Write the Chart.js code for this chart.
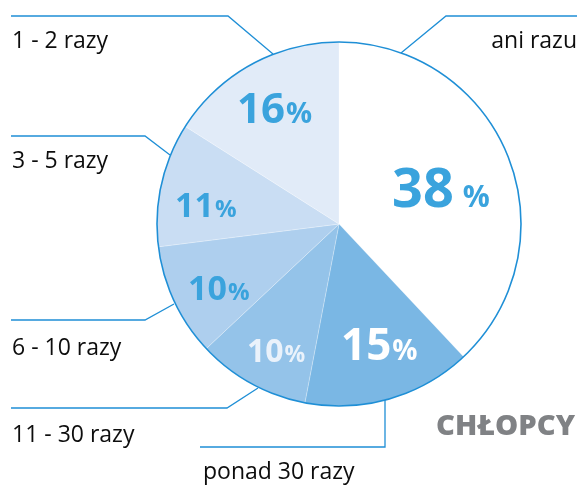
<!DOCTYPE html>
<html>
<head>
<meta charset="utf-8">
<script src="https://cdn.jsdelivr.net/npm/chart.js@4"></script>
<style>
    html, body { margin: 0; padding: 0; background: #fff; }
    #wrap { width: 579px; height: 485px; position: relative; }
</style>
</head>
<body>
<div id="wrap"><canvas id="pieChart"></canvas></div>
<script>
// slices from 12 o'clock, clockwise
const categories = ['ani razu', 'ponad 30 razy', '11 - 30 razy', '6 - 10 razy', '3 - 5 razy', '1 - 2 razy'];
const shares = [38, 15, 10, 10, 11, 16];
const sliceColors = ['#ffffff', '#7ab7e4', '#94c3e9', '#aecfee', '#c9ddf3', '#e1ebf8'];
const pctColors = ['#3aa3dd', '#ffffff', '#eaf2fb', '#3aa3dd', '#3aa3dd', '#3aa3dd'];
const title = 'CHŁOPCY';

const lineBlue = '#1f8fd6';

// where each category name and its leader line sit
const labelLayout = [
    { x: 577, y: 48, align: 'right', line: [[401, 53], [446, 16], [577, 16]] },
    { x: 203, y: 479, align: 'left', line: [[385, 400], [385, 447], [200, 447]] },
    { x: 12, y: 442, align: 'left', line: [[258, 388], [227, 408], [11, 408]] },
    { x: 12, y: 355, align: 'left', line: [[174, 304], [145, 320], [11, 320]] },
    { x: 12, y: 168, align: 'left', line: [[170, 155], [145, 136], [11, 136]] },
    { x: 12, y: 48, align: 'left', line: [[273, 54], [228, 16], [11, 16]] }
];

// percent text inside slices: left edge, baseline, number size, % size, gap
const pctLayout = [
    { x: 392, y: 207, size: 54, small: 30, gap: 9 },
    { x: 341, y: 360, size: 44, small: 28, gap: 1 },
    { x: 247, y: 362, size: 32, small: 23, gap: 1 },
    { x: 188, y: 300, size: 34, small: 24, gap: 1 },
    { x: 175, y: 217, size: 34, small: 24, gap: 1 },
    { x: 237, y: 123, size: 42, small: 29, gap: 1 }
];

const decorations = {
    id: 'decorations',
    afterDatasetsDraw(chart) {
        const ctx = chart.ctx;
        const arc = chart.getDatasetMeta(0).data[0];
        ctx.save();
        ctx.strokeStyle = lineBlue;
        ctx.lineWidth = 1.6;
        ctx.beginPath();
        ctx.arc(arc.x, arc.y, arc.outerRadius, 0, Math.PI * 2);
        ctx.stroke();
        ctx.restore();
    },
    afterDraw(chart) {
        const ctx = chart.ctx;
        ctx.save();

        // leader lines + category names
        ctx.strokeStyle = lineBlue;
        ctx.lineWidth = 1.3;
        ctx.fillStyle = '#0d0d0d';
        ctx.font = '23px "Open Sans", sans-serif';
        ctx.textBaseline = 'alphabetic';
        categories.forEach((name, i) => {
            const l = labelLayout[i];
            ctx.beginPath();
            l.line.forEach((p, j) => j ? ctx.lineTo(p[0], p[1]) : ctx.moveTo(p[0], p[1]));
            ctx.stroke();
            ctx.textAlign = l.align;
            ctx.fillText(name, l.x, l.y);
        });

        // percentages
        ctx.textAlign = 'left';
        shares.forEach((v, i) => {
            const p = pctLayout[i];
            ctx.fillStyle = pctColors[i];
            ctx.font = 'bold ' + p.size + 'px "Open Sans", sans-serif';
            const num = String(v);
            ctx.fillText(num, p.x, p.y);
            const w = ctx.measureText(num).width;
            ctx.font = 'bold ' + p.small + 'px "Open Sans", sans-serif';
            ctx.fillText('%', p.x + w + p.gap, p.y);
        });

        // title, stretched to the original width
        ctx.fillStyle = '#808285';
        ctx.font = '800 28px "Open Sans", sans-serif';
        const tw = ctx.measureText(title).width;
        ctx.translate(436, 435);
        ctx.scale(139 / tw, 1);
        ctx.fillText(title, 0, 0);

        ctx.restore();
    }
};

new Chart(document.getElementById('pieChart'), {
    type: 'pie',
    data: {
        labels: categories,
        datasets: [{
            data: shares,
            backgroundColor: sliceColors,
            borderColor: 'rgba(255,255,255,0.25)',
            borderWidth: 1
        }]
    },
    options: {
        responsive: true,
        maintainAspectRatio: false,
        animation: false,
        radius: 182,
        layout: { padding: { left: 100, right: 1, top: 0, bottom: 37 } },
        plugins: {
            legend: { display: false },
            tooltip: { enabled: false }
        }
    },
    plugins: [decorations]
});
</script>
</body>
</html>
